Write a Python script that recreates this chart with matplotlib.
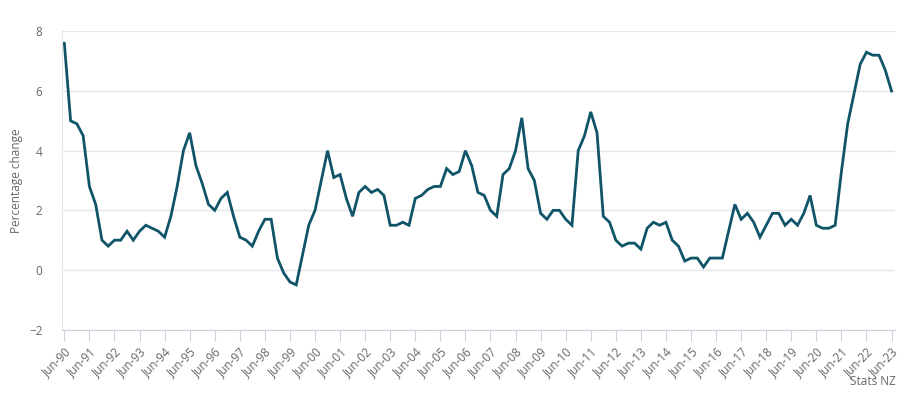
import matplotlib.pyplot as plt
import numpy as np

plt.rcParams['font.family'] = ['Open Sans', 'DejaVu Sans']

# annual % change in CPI, quarterly from Jun-90 to Jun-23
cpi = [
    7.6, 5.0, 4.9,
    4.5, 2.8, 2.2, 1.0,
    0.8, 1.0, 1.0, 1.3,
    1.0, 1.3, 1.5, 1.4,
    1.3, 1.1, 1.8, 2.8,
    4.0, 4.6, 3.5, 2.9,
    2.2, 2.0, 2.4, 2.6,
    1.8, 1.1, 1.0, 0.8,
    1.3, 1.7, 1.7, 0.4,
    -0.1, -0.4, -0.5, 0.5,
    1.5, 2.0, 3.0, 4.0,
    3.1, 3.2, 2.4, 1.8,
    2.6, 2.8, 2.6, 2.7,
    2.5, 1.5, 1.5, 1.6,
    1.5, 2.4, 2.5, 2.7,
    2.8, 2.8, 3.4, 3.2,
    3.3, 4.0, 3.5, 2.6,
    2.5, 2.0, 1.8, 3.2,
    3.4, 4.0, 5.1, 3.4,
    3.0, 1.9, 1.7, 2.0,
    2.0, 1.7, 1.5, 4.0,
    4.5, 5.3, 4.6, 1.8,
    1.6, 1.0, 0.8, 0.9,
    0.9, 0.7, 1.4, 1.6,
    1.5, 1.6, 1.0, 0.8,
    0.3, 0.4, 0.4, 0.1,
    0.4, 0.4, 0.4, 1.3,
    2.2, 1.7, 1.9, 1.6,
    1.1, 1.5, 1.9, 1.9,
    1.5, 1.7, 1.5, 1.9,
    2.5, 1.5, 1.4, 1.4,
    1.5, 3.3, 4.9, 5.9,
    6.9, 7.3, 7.2, 7.2,
    6.7, 6.0,
]
years = list(range(1990, 2024))
tick_labels = ["Jun-%02d" % (y % 100) for y in years]

grey = '#666666'
x = np.arange(len(cpi))

fig, ax = plt.subplots(figsize=(9.23, 4.07), dpi=100)
fig.subplots_adjust(left=0.067, right=0.97, top=0.923, bottom=0.19)

ax.plot(x, cpi, color='#0f5468', lw=2.0, solid_joinstyle='miter')
ax.set_xlim(-0.4, len(cpi) - 0.4)
ax.set_ylim(-2, 8)
ax.set_yticks(np.arange(-2, 9, 2))
ax.yaxis.grid(True, color='#e4e6ea', lw=1)
ax.set_axisbelow(True)

ax.set_xticks(np.arange(0, len(cpi), 4))
ax.set_xticklabels(tick_labels, rotation=45, ha='right', rotation_mode='anchor')
ax.tick_params(axis='x', length=8, color='#ccd3de', labelsize=8.5, labelcolor=grey, pad=3)
ax.tick_params(axis='y', length=0, labelsize=8.5, labelcolor=grey, pad=14)

for s in ['top', 'right']:
    ax.spines[s].set_visible(False)
ax.spines['left'].set_color('#e4e6ea')
ax.spines['bottom'].set_color('#ccd3de')

ax.set_ylabel('Percentage change', fontsize=8.5, color=grey, labelpad=4)
fig.text(0.97, 0.055, 'Stats NZ', fontsize=8.5, color=grey, ha='right')

fig.savefig('out.png', dpi=100)
